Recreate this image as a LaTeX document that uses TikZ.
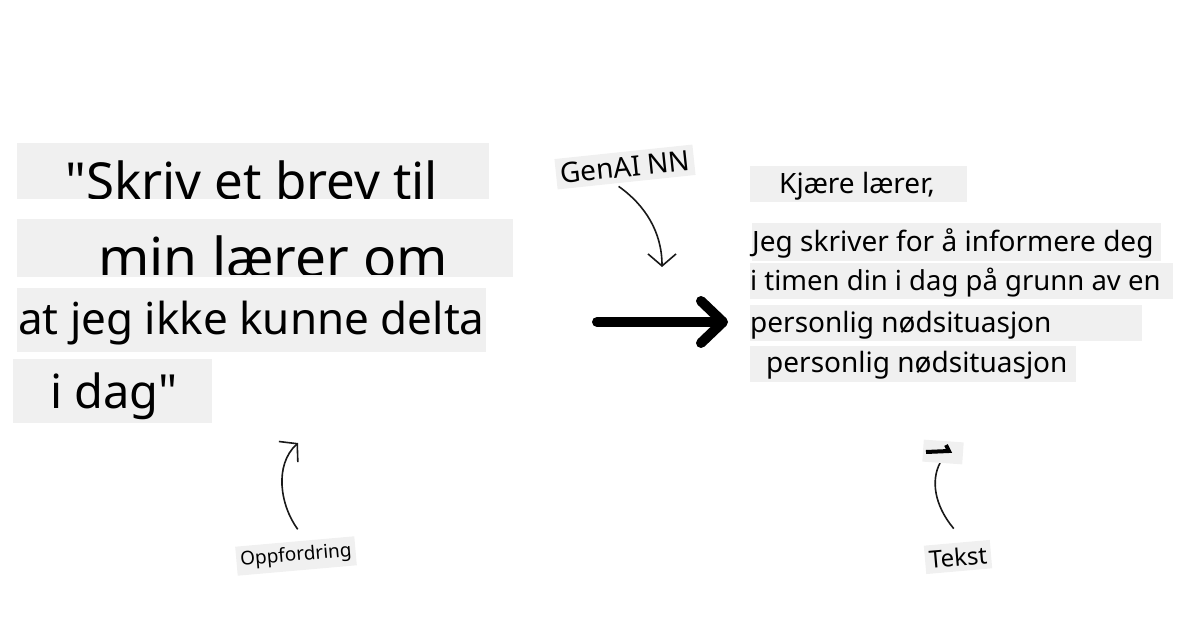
\documentclass[tikz,border=0pt]{standalone}
\usepackage{fontspec}
\setmainfont{Noto Sans}[Ligatures=TeXOff]
\usetikzlibrary{arrows.meta}
\definecolor{boxgray}{HTML}{F0F0F0}
\newcommand{\px}[1]{\fontsize{#1}{#1}\selectfont}
\tikzset{
  bgbox/.style={
    rectangle,
    fill=boxgray,
    inner sep=0pt,
    anchor=north west
  },
  linetext/.style={
    inner sep=0pt,
    anchor=base west
  },
  tag/.style={
    rectangle,
    fill=boxgray,
    inner xsep=4pt,
    inner ysep=5pt
  },
  thinarrow/.style={
    -{Straight Barb[length=12pt,width=28pt]},
    line width=1.6pt,
    draw=black!90
  },
  bigarrow/.style={
    -{Straight Barb[round,length=22pt,width=42pt]},
    line width=10pt,
    line cap=round
  }
}

\begin{document}
\begin{tikzpicture}[x=1pt,y=-1pt]
  \useasboundingbox (0,0) rectangle (1200,628);

  % prompt lines
  \node[bgbox, minimum width=472pt, minimum height=56pt] (pbox1) at (17,143) {};
  \node[bgbox, minimum width=496pt, minimum height=58pt] (pbox2) at (17,219) {};
  \node[bgbox, minimum width=469pt, minimum height=64pt] (pbox3) at (17,288) {};
  \node[bgbox, minimum width=199pt, minimum height=64pt] (pbox4) at (13,359) {};
  \begin{scope}
    \clip (17,143) rectangle (489,199);
    \node[linetext, font=\px{51}] (pline1) at (65,200) {"Skriv et brev til};
  \end{scope}
  \begin{scope}
    \clip (17,219) rectangle (513,275);
    \node[linetext, font=\px{55}] (pline2) at (98,278) {min lærer om};
  \end{scope}
  \node[linetext, font=\px{44}] (pline3) at (18,335) {at jeg ikke kunne delta};
  \node[linetext, font=\px{47}] (pline4) at (50,408) {i dag"};

  % answer lines
  \node[bgbox, minimum width=217pt, minimum height=36pt] (abox1) at (750,166) {};
  \node[bgbox, minimum width=409pt, minimum height=38pt] (abox2) at (752,223) {};
  \node[bgbox, minimum width=423pt, minimum height=36pt] (abox3) at (750,263) {};
  \node[bgbox, minimum width=392pt, minimum height=36pt] (abox4) at (750,305) {};
  \node[bgbox, minimum width=326pt, minimum height=36pt] (abox5) at (750,346) {};
  \node[linetext, font=\px{28}] (aline1) at (779,194) {Kjære lærer,};
  \node[linetext, font=\px{28}] (aline2) at (752,252) {Jeg skriver for å informere deg};
  \node[linetext, font=\px{27.5}] (aline3) at (750,291) {i timen din i dag på grunn av en};
  \node[linetext, font=\px{28}] (aline4) at (750,333) {personlig nødsituasjon};
  \node[linetext, font=\px{28}] (aline5) at (766,373) {personlig nødsituasjon};

  % labels
  \node[tag, rotate=6, font=\px{28}] (genai) at (625,167) {GenAI NN};
  \node[tag, rotate=5, font=\px{19}] (prompt) at (296,556) {Oppfordring};
  \node[tag, rotate=5, font=\px{24}] (tekst) at (958,557) {Tekst};

  % arrows
  \coordinate (genaitip) at (662,267);
  \coordinate (prompttip) at (298,443);
  \coordinate (tekstend) at (940,463);
  \coordinate (flowstart) at (597,322);
  \coordinate (flowend) at (728,322);
  \draw[thinarrow] ([xshift=-8pt,yshift=-4pt]genai.south) .. controls (645,205) and (662,232) .. (genaitip);
  \draw[thinarrow] ([xshift=3pt,yshift=12pt]prompt.north) .. controls (280,505) and (274,465) .. (prompttip);
  \draw[line width=1.6pt, draw=black!90] ([xshift=-3pt,yshift=14pt]tekst.north) .. controls (934,505) and (931,480) .. (tekstend);
  \node[rectangle, fill=boxgray, rotate=-4, minimum width=40pt, minimum height=22pt] (tekstcap) at (943,452) {};
  \draw[line width=4pt] (926,452) -- (949,451) -- (946,445);
  \draw[bigarrow] (flowstart) -- (flowend);
\end{tikzpicture}
\end{document}
